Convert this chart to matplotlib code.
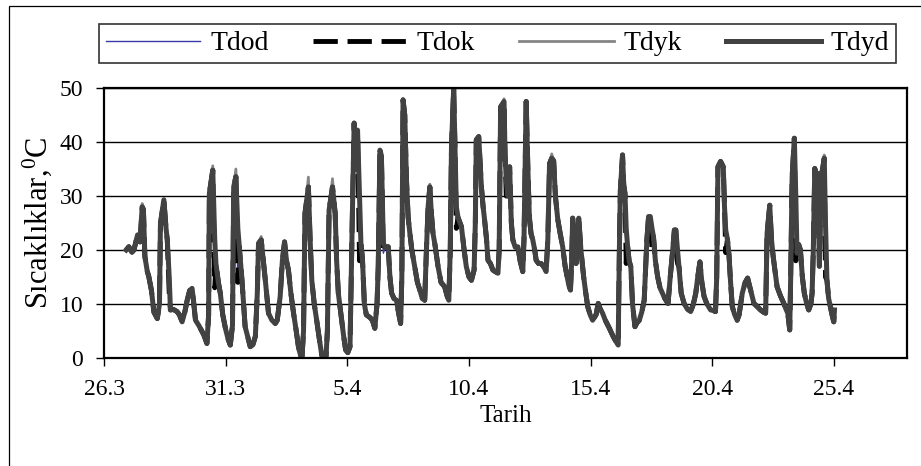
import matplotlib
matplotlib.use("Agg")
import matplotlib.pyplot as plt
from matplotlib.patches import Rectangle

plt.rcParams["font.family"] = ["Liberation Serif", "DejaVu Serif"]

# time axis: days counted from 26.3 00:00
gun = [
    0.91, 1.02, 1.15, 1.23, 1.38, 1.48, 1.57, 1.62, 1.68, 1.78,
    1.84, 1.95, 2.05, 2.19, 2.28, 2.32, 2.46, 2.55, 2.60, 2.68,
    2.73, 2.85, 3.00, 3.10, 3.21, 3.32, 3.42, 3.52, 3.62, 3.68,
    3.76, 3.90, 4.10, 4.23, 4.30, 4.33, 4.47, 4.55, 4.60, 4.70,
    4.78, 4.88, 4.99, 5.10, 5.19, 5.28, 5.33, 5.42, 5.50, 5.56,
    5.67, 5.80, 6.01, 6.12, 6.22, 6.30, 6.35, 6.46, 6.55, 6.63,
    6.76, 6.90, 7.04, 7.12, 7.24, 7.33, 7.42, 7.50, 7.58, 7.68,
    7.79, 7.90, 7.99, 8.13, 8.20, 8.26, 8.40, 8.47, 8.54, 8.64,
    8.74, 8.85, 8.95, 9.11, 9.18, 9.25, 9.39, 9.50, 9.56, 9.63,
    9.77, 9.85, 9.93, 10.02, 10.11,
    10.20, 10.28, 10.36, 10.42, 10.50, 10.56, 10.62, 10.70, 10.78, 10.93,
    11.03, 11.13, 11.22, 11.27, 11.34, 11.40, 11.48, 11.56, 11.68, 11.75,
    11.82, 11.92, 12.02, 12.10, 12.19, 12.24, 12.29, 12.36, 12.43, 12.50,
    12.57, 12.65, 12.77, 12.88, 12.98, 13.08, 13.18, 13.25, 13.32, 13.39,
    13.45, 13.52, 13.60, 13.73, 13.85, 14.00, 14.10, 14.17, 14.23, 14.28,
    14.37, 14.42, 14.48, 14.55, 14.69, 14.80, 14.89, 15.00, 15.10, 15.21,
    15.26, 15.30, 15.40,
    15.51, 15.58, 15.64, 15.72, 15.78, 15.88, 15.98, 16.08, 16.19, 16.24,
    16.30, 16.44, 16.48, 16.53, 16.60, 16.67, 16.74, 16.80, 16.90, 17.01,
    17.10, 17.21, 17.26, 17.35, 17.42, 17.48, 17.55, 17.62, 17.70, 17.76,
    17.86, 17.96, 18.06, 18.17, 18.24, 18.31, 18.40, 18.48, 18.55, 18.65,
    18.75, 18.85, 18.95, 19.03, 19.10, 19.17, 19.22, 19.26, 19.33, 19.40,
    19.45, 19.51, 19.60, 19.71, 19.80, 19.88, 19.98, 20.08, 20.15, 20.22,
    20.31,
    20.40, 20.49, 20.60, 20.77, 20.87, 20.97, 21.05, 21.13, 21.18, 21.22,
    21.31, 21.36, 21.41, 21.46, 21.52, 21.58, 21.65, 21.72, 21.82, 21.90,
    22.00, 22.10, 22.20, 22.25, 22.31, 22.38, 22.45, 22.52, 22.58, 22.66,
    22.75, 22.85, 22.95, 23.05, 23.18, 23.27, 23.36, 23.44, 23.50, 23.57,
    23.63, 23.72, 23.84, 23.98, 24.11, 24.22, 24.32, 24.40, 24.49, 24.57,
    24.66, 24.78, 24.93, 25.03, 25.13, 25.18,
    25.23, 25.34, 25.45, 25.50, 25.55, 25.62, 25.68, 25.75, 25.82, 25.92,
    26.02, 26.10, 26.23, 26.35, 26.45, 26.55, 26.71, 26.85, 26.98, 27.10,
    27.19, 27.25, 27.36, 27.43, 27.50, 27.58, 27.66, 27.80, 27.94, 28.03,
    28.10, 28.18, 28.22, 28.28, 28.37, 28.43, 28.48, 28.55, 28.62, 28.70,
    28.78, 28.88, 28.96, 29.05, 29.10, 29.15, 29.21, 29.27, 29.33, 29.40,
    29.47, 29.53, 29.60, 29.65, 29.71, 29.78, 29.85, 29.92, 29.99, 30.02,
]

Tdyd = [
    20.0, 20.6, 19.6, 20.0, 22.8, 21.5, 28.0, 27.5, 18.8, 16.0,
    15.1, 12.5, 8.5, 7.3, 10.0, 24.9, 29.3, 24.0, 21.9, 15.0,
    8.9, 9.0, 8.6, 8.0, 6.7, 8.5, 10.7, 12.5, 12.9, 10.5,
    7.0, 6.0, 4.3, 2.7, 8.0, 30.5, 34.8, 22.0, 17.5, 14.0,
    12.0, 8.0, 5.5, 3.5, 2.4, 6.0, 31.7, 33.6, 24.0, 20.6,
    14.4, 5.8, 2.1, 2.5, 4.0, 12.0, 21.2, 21.9, 18.0, 14.4,
    8.3, 7.0, 6.4, 7.0, 11.4, 18.0, 21.5, 18.0, 16.3, 12.0,
    8.3, 5.0, 2.1, -0.5, 5.0, 26.8, 31.7, 22.0, 14.4, 10.0,
    7.0, 3.5, 0.5, -1.0, 5.0, 27.4, 31.7, 26.8, 18.0, 12.0,
    7.0, 4.0, 1.5, 1.0, 2.1,
    25.0, 43.5, 35.0, 42.2, 30.0, 21.0, 18.5, 10.0, 8.0, 7.5,
    7.0, 5.5, 10.0, 16.9, 38.5, 37.5, 21.2, 20.5, 20.6, 15.0,
    12.0, 11.0, 10.7, 8.5, 6.4, 15.0, 47.8, 45.0, 33.0, 26.0,
    23.1, 20.0, 16.9, 14.0, 12.6, 11.0, 10.7, 20.0, 28.0, 31.7,
    27.0, 23.1, 21.0, 16.9, 14.0, 13.2, 11.5, 10.7, 20.0, 39.1,
    49.9, 40.0, 28.0, 26.0, 24.3, 20.0, 16.9, 15.0, 14.4, 16.3,
    25.0, 40.4, 41.0,
    31.7, 28.0, 25.6, 22.0, 18.1, 17.5, 16.3, 16.0, 15.7, 20.0,
    46.5, 47.5, 38.0, 33.0, 30.0, 35.4, 25.0, 21.9, 20.5, 20.6,
    18.0, 16.0, 22.0, 47.5, 35.0, 26.2, 23.0, 21.9, 20.0, 18.1,
    17.5, 17.5, 17.0, 16.0, 22.0, 36.0, 37.0, 36.5, 30.0, 25.6,
    23.0, 20.6, 17.0, 15.1, 13.5, 12.6, 18.0, 25.9, 22.0, 17.5,
    22.0, 25.9, 20.0, 15.1, 12.0, 9.5, 8.0, 7.0, 7.5, 8.0,
    10.1,
    9.0, 8.3, 7.0, 5.5, 4.5, 3.6, 3.0, 2.4, 20.0, 31.1,
    37.6, 32.0, 30.5, 24.0, 20.6, 18.0, 16.9, 10.0, 5.8, 6.5,
    7.0, 8.5, 10.7, 16.0, 21.9, 26.2, 26.2, 24.0, 22.5, 18.0,
    15.1, 13.0, 12.0, 11.0, 10.1, 15.0, 19.4, 23.7, 23.7, 20.0,
    16.9, 12.0, 10.1, 9.0, 8.6, 10.0, 12.0, 15.0, 17.8, 14.0,
    11.4, 10.0, 8.9, 8.8, 8.6, 15.0,
    35.4, 36.4, 35.4, 28.0, 23.7, 22.0, 19.4, 14.0, 9.5, 8.0,
    7.0, 8.0, 12.0, 14.0, 14.8, 13.0, 10.1, 9.5, 8.9, 8.5,
    8.3, 23.1, 28.3, 22.0, 18.8, 16.0, 13.2, 11.5, 10.1, 9.0,
    8.3, 5.2, 15.0, 33.6, 40.7, 30.0, 19.4, 21.0, 20.0, 15.0,
    12.0, 10.0, 8.9, 10.0, 12.0, 20.0, 35.1, 33.0, 34.2, 17.0,
    33.6, 35.0, 37.0, 25.0, 14.4, 11.0, 9.5, 8.0, 6.7, 8.9,
]

Tdyk = [
    20.0, 20.6, 19.6, 20.0, 22.8, 21.5, 28.6, 27.5, 18.8, 16.0,
    15.1, 12.5, 8.5, 7.3, 10.0, 24.9, 29.3, 24.0, 21.9, 15.0,
    8.9, 9.0, 8.6, 8.0, 6.7, 8.5, 10.7, 12.5, 12.9, 10.5,
    7.0, 6.0, 4.3, 2.7, 8.0, 30.5, 35.6, 22.0, 17.5, 14.0,
    12.0, 8.0, 5.5, 3.5, 2.4, 6.0, 31.7, 35.0, 24.0, 20.6,
    14.4, 5.8, 2.1, 2.5, 4.0, 12.0, 21.2, 22.5, 18.0, 14.4,
    8.3, 7.0, 6.4, 7.0, 11.4, 18.0, 21.5, 18.0, 16.3, 12.0,
    8.3, 5.0, 2.1, -0.5, 5.0, 26.8, 33.5, 22.0, 14.4, 10.0,
    7.0, 3.5, 0.5, -1.0, 5.0, 27.4, 33.2, 26.8, 18.0, 12.0,
    7.0, 4.0, 1.5, 1.0, 2.1,
    25.0, 43.5, 35.0, 42.2, 30.0, 21.0, 18.5, 10.0, 8.0, 7.5,
    7.0, 5.5, 10.0, 16.9, 38.5, 37.5, 21.2, 20.5, 20.6, 15.0,
    12.0, 11.0, 10.7, 8.5, 6.4, 15.0, 47.8, 45.0, 33.0, 26.0,
    23.1, 20.0, 16.9, 14.0, 12.6, 11.0, 10.7, 20.0, 28.0, 32.2,
    27.0, 23.1, 21.0, 16.9, 14.0, 13.2, 11.5, 10.7, 20.0, 39.1,
    49.9, 40.0, 28.0, 26.0, 24.3, 20.0, 16.9, 15.0, 14.4, 16.3,
    25.0, 40.4, 41.0,
    31.7, 28.0, 25.6, 22.0, 18.1, 17.5, 16.3, 16.0, 15.7, 20.0,
    46.5, 48.0, 38.0, 33.0, 30.0, 35.4, 25.0, 21.9, 20.5, 20.6,
    18.0, 16.0, 22.0, 47.5, 35.0, 26.2, 23.0, 21.9, 20.0, 18.1,
    17.5, 17.5, 17.0, 16.0, 22.0, 36.0, 37.8, 36.5, 30.0, 25.6,
    23.0, 20.6, 17.0, 15.1, 13.5, 12.6, 18.0, 25.9, 22.0, 17.5,
    22.0, 25.9, 20.0, 15.1, 12.0, 9.5, 8.0, 7.0, 7.5, 8.0,
    10.1,
    9.0, 8.3, 7.0, 5.5, 4.5, 3.6, 3.0, 2.4, 20.0, 31.1,
    37.6, 32.0, 30.5, 24.0, 20.6, 18.0, 16.9, 10.0, 5.8, 6.5,
    7.0, 8.5, 10.7, 16.0, 21.9, 26.2, 26.2, 24.0, 22.5, 18.0,
    15.1, 13.0, 12.0, 11.0, 10.1, 15.0, 19.4, 23.7, 23.7, 20.0,
    16.9, 12.0, 10.1, 9.0, 8.6, 10.0, 12.0, 15.0, 17.8, 14.0,
    11.4, 10.0, 8.9, 8.8, 8.6, 15.0,
    35.4, 36.4, 35.4, 28.0, 23.7, 22.0, 19.4, 14.0, 9.5, 8.0,
    7.0, 8.0, 12.0, 14.0, 14.8, 13.0, 10.1, 9.5, 8.9, 8.5,
    8.3, 23.1, 28.3, 22.0, 18.8, 16.0, 13.2, 11.5, 10.1, 9.0,
    8.3, 5.2, 15.0, 33.6, 40.7, 30.0, 19.4, 21.0, 20.0, 15.0,
    12.0, 10.0, 8.9, 10.0, 12.0, 20.0, 35.1, 33.0, 34.2, 17.0,
    33.6, 35.0, 37.6, 25.0, 14.4, 11.0, 9.5, 8.0, 6.7, 8.9,
]

Tdok = [
    20.0, 20.6, 19.6, 20.0, 22.8, 21.5, 28.0, 27.5, 18.8, 16.0,
    15.1, 12.5, 8.5, 7.3, 10.0, 24.9, 29.3, 24.0, 21.9, 12.0,
    8.9, 9.0, 8.6, 8.0, 6.7, 8.5, 10.7, 12.5, 12.9, 10.5,
    7.0, 6.0, 4.3, 2.7, 8.0, 30.5, 34.8, 13.0, 17.5, 14.0,
    12.0, 8.0, 5.5, 3.5, 2.4, 6.0, 31.7, 33.6, 14.0, 20.6,
    14.4, 5.8, 2.1, 2.5, 4.0, 12.0, 21.2, 21.9, 18.0, 14.4,
    8.3, 7.0, 6.4, 7.0, 11.4, 18.0, 21.5, 18.0, 16.3, 12.0,
    8.3, 5.0, 2.1, -0.5, 5.0, 26.8, 31.7, 22.0, 14.4, 10.0,
    7.0, 3.5, 0.5, -1.0, 5.0, 27.4, 31.7, 26.8, 18.0, 12.0,
    7.0, 4.0, 1.5, 1.0, 2.1,
    25.0, 43.5, 35.0, 42.2, 18.0, 21.0, 18.5, 10.0, 8.0, 7.5,
    7.0, 5.5, 10.0, 16.9, 38.5, 37.5, 19.4, 20.5, 20.6, 15.0,
    12.0, 11.0, 10.7, 8.5, 6.4, 15.0, 47.8, 45.0, 33.0, 26.0,
    23.1, 20.0, 16.9, 14.0, 12.6, 11.0, 10.7, 20.0, 28.0, 31.7,
    27.0, 23.1, 21.0, 16.9, 14.0, 13.2, 11.5, 10.7, 20.0, 39.1,
    49.9, 40.0, 24.0, 26.0, 24.3, 20.0, 16.9, 15.0, 14.4, 16.3,
    25.0, 40.4, 41.0,
    31.7, 28.0, 25.6, 22.0, 18.1, 17.5, 16.3, 16.0, 15.7, 20.0,
    46.5, 47.5, 38.0, 30.0, 30.0, 35.4, 25.0, 21.9, 20.5, 20.6,
    18.0, 16.0, 22.0, 47.5, 35.0, 26.0, 23.0, 21.9, 20.0, 18.1,
    17.5, 17.5, 17.0, 16.0, 22.0, 36.0, 37.0, 36.5, 30.0, 25.6,
    23.0, 20.6, 17.0, 15.1, 13.5, 12.6, 18.0, 25.9, 22.0, 17.5,
    22.0, 25.9, 20.0, 15.1, 12.0, 9.5, 8.0, 7.0, 7.5, 8.0,
    10.1,
    9.0, 8.3, 7.0, 5.5, 4.5, 3.6, 3.0, 2.4, 20.0, 31.1,
    37.6, 32.0, 30.5, 17.5, 20.6, 18.0, 16.9, 10.0, 5.8, 6.5,
    7.0, 8.5, 10.7, 16.0, 21.9, 26.2, 26.2, 20.0, 22.5, 18.0,
    15.1, 13.0, 12.0, 11.0, 10.1, 15.0, 19.4, 23.7, 23.7, 17.5,
    16.9, 12.0, 10.1, 9.0, 8.6, 10.0, 12.0, 15.0, 17.8, 14.0,
    11.4, 10.0, 8.9, 8.8, 8.6, 15.0,
    35.4, 36.4, 35.4, 28.0, 19.5, 22.0, 19.4, 14.0, 9.5, 8.0,
    7.0, 8.0, 12.0, 14.0, 14.8, 13.0, 10.1, 9.5, 8.9, 8.5,
    8.3, 23.1, 28.3, 22.0, 18.8, 16.0, 13.2, 11.5, 10.1, 9.0,
    8.3, 5.2, 15.0, 33.6, 40.7, 18.0, 19.4, 21.0, 20.0, 15.0,
    12.0, 10.0, 8.9, 10.0, 12.0, 20.0, 35.1, 33.0, 34.2, 17.0,
    33.6, 35.0, 37.0, 15.0, 14.4, 11.0, 9.5, 8.0, 6.7, 8.9,
]

Tdod = [
    20.0, 20.6, 19.6, 20.0, 22.8, 21.5, 28.0, 27.5, 18.8, 16.0,
    15.1, 12.5, 8.5, 7.3, 10.0, 24.9, 29.3, 24.0, 21.9, 12.0,
    8.9, 9.0, 8.6, 8.0, 6.7, 8.5, 10.7, 12.5, 12.9, 10.5,
    7.0, 6.0, 4.3, 2.7, 8.0, 30.5, 34.8, 13.0, 17.5, 14.0,
    12.0, 8.0, 5.5, 3.5, 2.4, 6.0, 31.7, 33.6, 14.0, 20.6,
    14.4, 5.8, 2.1, 2.5, 4.0, 12.0, 21.2, 21.9, 18.0, 14.4,
    8.3, 7.0, 6.4, 7.0, 11.4, 18.0, 21.5, 18.0, 16.3, 12.0,
    8.3, 5.0, 2.1, -0.5, 5.0, 26.8, 31.7, 22.0, 14.4, 10.0,
    7.0, 3.5, 0.5, -1.0, 5.0, 27.4, 31.7, 26.8, 18.0, 12.0,
    7.0, 4.0, 1.5, 1.0, 2.1,
    25.0, 43.5, 35.0, 42.2, 23.0, 21.0, 18.5, 10.0, 8.0, 7.5,
    7.0, 5.5, 10.0, 16.9, 38.5, 37.5, 19.4, 20.5, 20.6, 15.0,
    12.0, 11.0, 10.7, 8.5, 6.4, 15.0, 47.8, 45.0, 33.0, 26.0,
    23.1, 20.0, 16.9, 14.0, 12.6, 11.0, 10.7, 20.0, 28.0, 31.7,
    27.0, 23.1, 21.0, 16.9, 14.0, 13.2, 11.5, 10.7, 20.0, 39.1,
    49.9, 40.0, 24.0, 26.0, 24.3, 20.0, 16.9, 15.0, 14.4, 16.3,
    25.0, 40.4, 41.0,
    31.7, 28.0, 25.6, 22.0, 18.1, 17.5, 16.3, 16.0, 15.7, 20.0,
    46.5, 47.5, 38.0, 30.0, 30.0, 35.4, 25.0, 21.9, 20.5, 20.6,
    18.0, 16.0, 22.0, 47.5, 35.0, 26.0, 23.0, 21.9, 20.0, 18.1,
    17.5, 17.5, 17.0, 16.0, 22.0, 36.0, 37.0, 36.5, 30.0, 25.6,
    23.0, 20.6, 17.0, 15.1, 13.5, 12.6, 18.0, 25.9, 22.0, 17.5,
    22.0, 25.9, 20.0, 15.1, 12.0, 9.5, 8.0, 7.0, 7.5, 8.0,
    10.1,
    9.0, 8.3, 7.0, 5.5, 4.5, 3.6, 3.0, 2.4, 20.0, 31.1,
    37.6, 32.0, 30.5, 22.5, 20.6, 18.0, 16.9, 10.0, 5.8, 6.5,
    7.0, 8.5, 10.7, 16.0, 21.9, 26.2, 26.2, 22.0, 22.5, 18.0,
    15.1, 13.0, 12.0, 11.0, 10.1, 15.0, 19.4, 23.7, 23.7, 17.5,
    16.9, 12.0, 10.1, 9.0, 8.6, 10.0, 12.0, 15.0, 17.8, 14.0,
    11.4, 10.0, 8.9, 8.8, 8.6, 15.0,
    35.4, 36.4, 35.4, 28.0, 22.5, 22.0, 19.4, 14.0, 9.5, 8.0,
    7.0, 8.0, 12.0, 14.0, 14.8, 13.0, 10.1, 9.5, 8.9, 8.5,
    8.3, 23.1, 28.3, 22.0, 18.8, 16.0, 13.2, 11.5, 10.1, 9.0,
    8.3, 5.2, 15.0, 33.6, 40.7, 18.0, 19.4, 21.0, 20.0, 15.0,
    12.0, 10.0, 8.9, 10.0, 12.0, 20.0, 35.1, 33.0, 34.2, 17.0,
    33.6, 35.0, 37.0, 15.0, 14.4, 11.0, 9.5, 8.0, 6.7, 8.9,
]

tick_days = [0, 5, 10, 15, 20, 25, 30]
tick_labels = ["26.3", "31.3", "5.4", "10.4", "15.4", "20.4", "25.4"]
y_ticks = [0, 10, 20, 30, 40, 50]

W, H = 921, 466
fig = plt.figure(figsize=(W / 100, H / 100), dpi=100)
ax = fig.add_axes([104 / W, 1 - 358 / H, (907 - 104) / W, (358 - 88) / H])

# outer chart frame (runs off the right and bottom edge)
fig.add_artist(Rectangle((9 / W, -0.1), 1.2, 1 - 6 / H + 0.1,
                         transform=fig.transFigure, fill=False,
                         edgecolor="black", linewidth=0.9))

ax.plot(gun, Tdod, color="#3a3aa8", linewidth=1.0, label="Tdod")
ax.plot(gun, Tdok, color="black", linewidth=3.5, linestyle=(0, (5, 2)),
        label="Tdok")
ax.plot(gun, Tdyk, color="#858585", linewidth=2.0, label="Tdyk")
ax.plot(gun, Tdyd, color="#424242", linewidth=3.6, label="Tdyd")

ax.set_xlim(0, 33)
ax.set_ylim(0, 50)
ax.set_xticks(tick_days)
ax.set_xticklabels(tick_labels)
ax.set_yticks(y_ticks)
ax.yaxis.grid(True, color="black", linewidth=1.0)
ax.set_axisbelow(True)
for side in ax.spines.values():
    side.set_linewidth(1.6)
    side.set_color("black")
ax.tick_params(axis="both", direction="out", length=6, width=1.0,
               labelsize=17, colors="black")
ax.tick_params(axis="y", pad=9)
ax.tick_params(axis="x", pad=9)

ax.set_xlabel("Tarih", fontsize=18, labelpad=4)
ax.set_ylabel(r"Sıcaklıklar,$\mathregular{^0}$C", fontsize=22, labelpad=4)

leg = fig.legend(loc="center", ncol=4, mode="expand",
                 bbox_to_anchor=(99 / W, 1 - 64 / H, (896 - 99) / W, 41 / H),
                 fontsize=20, frameon=True, fancybox=False,
                 handlelength=3.4, handletextpad=0.35, columnspacing=2.0,
                 borderaxespad=0, borderpad=0.25)
leg.get_frame().set_edgecolor("black")
leg.get_frame().set_linewidth(1.2)

fig.savefig("out.png", dpi=100)
